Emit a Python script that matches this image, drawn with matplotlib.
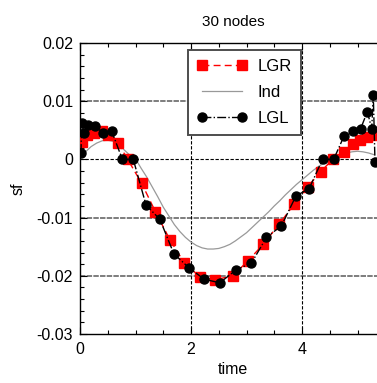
import matplotlib
matplotlib.use("Agg")
import matplotlib.pyplot as plt
from matplotlib.ticker import MultipleLocator, FixedLocator

plt.rcParams['font.family'] = ['Liberation Sans', 'DejaVu Sans']

title = "30 nodes"
xlabel = "time"
ylabel = "sf"

lgr_t = [0.03, 0.13, 0.26, 0.39, 0.51, 0.685, 0.86, 1.11, 1.36, 1.62, 1.88, 2.16, 2.43,
         2.75, 3.02, 3.30, 3.59, 3.86, 4.10, 4.34, 4.55, 4.75, 4.91, 5.05, 5.18, 5.32]
lgr_v = [0.0030, 0.0042, 0.0046, 0.0049, 0.0042, 0.0028, 0.0, -0.0041, -0.0090, -0.0138,
         -0.0178, -0.0202, -0.0207, -0.0200, -0.0175, -0.0146, -0.0111, -0.0077, -0.0047,
         -0.0021, 0.0, 0.0013, 0.0026, 0.0033, 0.0038, 0.0042]

lgl_t = [0.018, 0.03, 0.072, 0.15, 0.27, 0.41, 0.57, 0.763, 0.96, 1.19, 1.44, 1.69, 1.96,
         2.24, 2.52, 2.81, 3.09, 3.36, 3.63, 3.89, 4.13, 4.37, 4.57, 4.757, 4.924, 5.058,
         5.177, 5.256, 5.285, 5.315]
lgl_v = [0.0011, 0.0063, 0.0046, 0.0059, 0.0057, 0.0046, 0.0049, 0.0, 0.0, -0.00785,
         -0.0103, -0.0162, -0.0186, -0.0206, -0.0212, -0.0190, -0.0178, -0.0134, -0.0114,
         -0.0063, -0.0050, 0.0, 0.0, 0.0040, 0.0049, 0.0053, 0.0082, 0.0053, 0.0110, -0.0004]

ind_t = [0.0, 0.1, 0.2, 0.3, 0.4, 0.5, 0.6, 0.7, 0.8, 0.9, 1.0, 1.1, 1.2, 1.3, 1.4, 1.5,
         1.6, 1.7, 1.8, 1.9, 2.0, 2.1, 2.2, 2.3, 2.4, 2.5, 2.6, 2.7, 2.8, 2.9, 3.0, 3.1,
         3.2, 3.3, 3.4, 3.5, 3.6, 3.7, 3.8, 3.9, 4.0, 4.1, 4.2, 4.3, 4.4, 4.5, 4.6, 4.7,
         4.8, 4.9, 5.0, 5.1, 5.2, 5.3]
ind_v = [0.0005, 0.0013, 0.0022, 0.0028, 0.0032, 0.0033, 0.0031, 0.0025, 0.0016, 0.0007,
         0.0001, -0.0015, -0.0030, -0.0047, -0.0064, -0.0082, -0.0097, -0.0112, -0.0124,
         -0.0134, -0.0142, -0.0148, -0.0152, -0.0154, -0.0154, -0.0153, -0.0150, -0.0146,
         -0.0140, -0.0133, -0.0126, -0.0117, -0.0108, -0.0099, -0.0090, -0.0080, -0.0071,
         -0.0061, -0.0052, -0.0043, -0.0035, -0.0027, -0.0019, -0.0012, -0.0006, 0.0,
         0.0004, 0.0008, 0.0011, 0.0013, 0.0014, 0.0013, 0.0011, 0.0008]

xticks = [0, 2, 4]
xticklabels = ["0", "2", "4"]
yticks = [0.02, 0.01, 0, -0.01, -0.02, -0.03]
yticklabels = ["0.02", "0.01", "0", "-0.01", "-0.02", "-0.03"]

W, H = 377, 383
fig = plt.figure(figsize=(W / 100, H / 100), dpi=100)
ax = fig.add_axes([80 / W, (H - 334) / H, 306 / W, 291 / H])

# grid lines
for yv in [0.01, -0.01, -0.02]:
    ax.axhline(yv, color='0.45', lw=1.3, ls=(0, (3, 0.7)), zorder=1)
ax.axhline(0, color='black', lw=0.8, ls=(0, (3, 1.5)), zorder=1)
for xv in [2, 4]:
    ax.axvline(xv, color='black', lw=0.8, ls=(0, (3, 1.5)), zorder=1)

ax.plot(ind_t, ind_v, color='0.6', lw=0.9, label='Ind', zorder=2)
ax.plot(lgr_t, lgr_v, color='red', ls=(0, (5, 3)), lw=1.0, marker='s', ms=6.5,
        mec='red', mfc='red', label='LGR', zorder=3)
ax.plot(lgl_t, lgl_v, color='black', ls='-.', lw=1.0, marker='o', ms=6.5,
        mec='black', mfc='black', label='LGL', zorder=4)

ax.set_xlim(0, 306 / 55.5)
ax.set_ylim(-0.03, 0.02)
ax.xaxis.set_major_locator(FixedLocator(xticks))
ax.set_xticklabels(xticklabels)
ax.yaxis.set_major_locator(FixedLocator(yticks))
ax.set_yticklabels(yticklabels)
ax.xaxis.set_minor_locator(MultipleLocator(0.5))
ax.yaxis.set_minor_locator(MultipleLocator(0.002))
ax.tick_params(which='both', direction='in', top=True, right=False, labelsize=11.5)
ax.tick_params(which='major', length=5, width=0.8)
ax.tick_params(which='minor', length=3, width=0.8)
ax.tick_params(axis='x', pad=6)
ax.tick_params(axis='y', pad=5)
for s in ax.spines.values():
    s.set_linewidth(1.0)

ax.set_title(title, fontsize=11, pad=12)
ax.set_xlabel(xlabel, fontsize=11.5, labelpad=3)
ax.set_ylabel(ylabel, fontsize=11.5, labelpad=8)

handles, labels = ax.get_legend_handles_labels()
order = [labels.index('LGR'), labels.index('Ind'), labels.index('LGL')]
leg = ax.legend([handles[i] for i in order], [labels[i] for i in order],
                loc='upper left', bbox_to_anchor=(188 / W, 1 - 50 / H),
                bbox_transform=fig.transFigure, borderaxespad=0, fancybox=False,
                framealpha=1, edgecolor='0.3', fontsize=12, handlelength=3.0,
                labelspacing=0.65, borderpad=0.55, handletextpad=0.6, numpoints=2)
leg.get_frame().set_linewidth(1.4)
leg.set_zorder(10)

fig.savefig("out.png", dpi=100)
